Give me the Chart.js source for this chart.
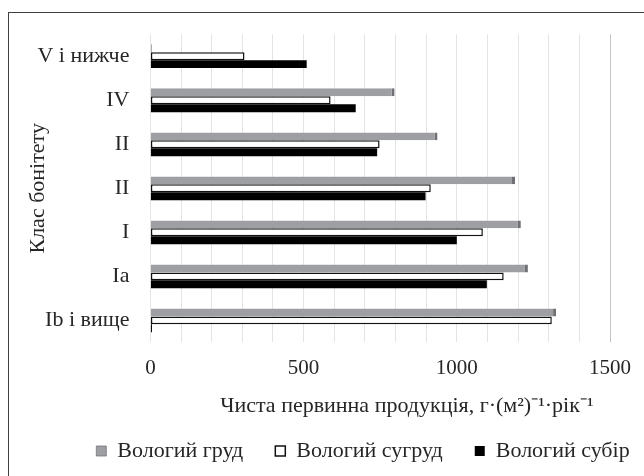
<!DOCTYPE html>
<html>
<head>
<meta charset="utf-8">
<script src="https://cdn.jsdelivr.net/npm/chart.js@4"></script>
<style>
  body { margin: 0; background: #fff; }
  #wrap { position: relative; width: 644px; height: 476px; overflow: hidden; }
  #frame { position: absolute; left: 8px; top: 12px; width: 700px; height: 600px; border: 1.5px solid #404040; }
  canvas { position: absolute; left: 0; top: 0; }
</style>
</head>
<body>
<div id="wrap">
  <div id="frame"></div>
  <canvas id="chart" width="644" height="476"></canvas>
</div>
<script>
// site classes, top to bottom
const classes = ['V і нижче', 'IV', 'II', 'II', 'I', 'Ia', 'Ib і вище'];

// net primary production, g·(m2)-1·year-1
const grud   = [5, 797, 937, 1190, 1209, 1232, 1324];
const sugrud = [307, 588, 748, 915, 1085, 1153, 1310];
const subir  = [510, 670, 740, 898, 1000, 1098, 5];

const seriesNames = ['Вологий груд', 'Вологий сугруд', 'Вологий субір'];
const xTicks = [0, 500, 1000, 1500];

const serif = "'Liberation Serif', 'Times New Roman', serif";
const textColor = '#262626';

// the original frame is wider than the visible picture, so its legend sits right of centre
const legendShift = {
    id: 'legendShift',
    afterLayout(chart) {
        const lg = chart.legend;
        if (lg) { lg.left += 42; lg.right += 42; }
    }
};

new Chart(document.getElementById('chart'), {
    type: 'bar',
    data: {
        labels: classes,
        datasets: [{
            label: seriesNames[0],
            data: grud,
            backgroundColor: '#9e9fa3',
            borderColor: '#6f7074',
            borderWidth: { top: 0, right: 3, bottom: 0, left: 0 },
            borderSkipped: false
        }, {
            label: seriesNames[1],
            data: sugrud,
            backgroundColor: '#ffffff',
            borderColor: '#111111',
            borderWidth: 1.5,
            borderSkipped: false
        }, {
            label: seriesNames[2],
            data: subir,
            backgroundColor: '#000000',
            borderColor: '#000000',
            borderWidth: 0
        }]
    },
    options: {
        indexAxis: 'y',
        responsive: false,
        animation: false,
        categoryPercentage: 0.54,
        barPercentage: 1.0,
        layout: { padding: { left: 12, right: 14, top: 16, bottom: 4 } },
        scales: {
            x: {
                min: 0,
                max: 1500,
                border: { display: false },
                grid: {
                    drawTicks: false,
                    color: c => c.tick && c.tick.value === 1500 ? '#c4c4c4' : '#e4e4e4',
                    lineWidth: 1
                },
                ticks: {
                    stepSize: 100,
                    autoSkip: false,
                    maxRotation: 0,
                    padding: 13,
                    color: textColor,
                    font: { family: serif, size: 21 },
                    callback: v => xTicks.includes(v) ? v : ''
                },
                title: {
                    display: true,
                    align: 'end',
                    text: 'Чиста первинна продукція, г·(м²)⁻¹·рік⁻¹   ',
                    color: textColor,
                    font: { family: serif, size: 22 },
                    padding: { top: -1, bottom: -11 }
                }
            },
            y: {
                border: { display: false },
                grid: { display: false, drawTicks: false },
                ticks: {
                    padding: 21,
                    color: textColor,
                    font: { family: serif, size: 22 }
                },
                title: {
                    display: true,
                    text: 'Клас бонітету',
                    color: textColor,
                    font: { family: serif, size: 22 },
                    padding: { top: 13, bottom: -35 }
                }
            }
        },
        plugins: {
            legend: {
                position: 'bottom',
                labels: {
                    boxWidth: 10,
                    boxHeight: 10,
                    padding: 32,
                    color: textColor,
                    font: { family: serif, size: 22 }
                }
            },
            tooltip: { enabled: false }
        }
    },
    plugins: [legendShift]
});
</script>
</body>
</html>
